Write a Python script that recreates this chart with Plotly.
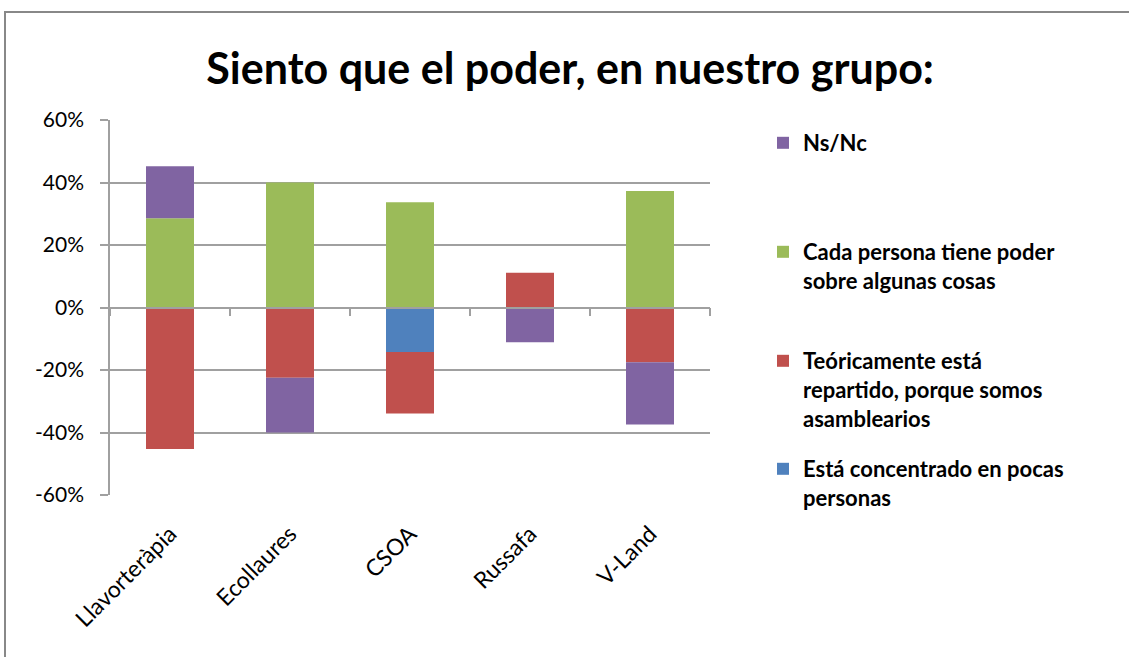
import plotly.graph_objects as go

categories = ["Llavorteràpia", "Ecollaures", "CSOA", "Russafa", "V-Land"]

concentrado = [None, None, -14.2, None, None]
teoricamente = [-45.3, -22.5, -19.7, 11.1, -17.5]
cada_persona = [28.6, 40.0, 33.7, None, 37.3]
ns_nc = [16.6, -17.5, None, -11.1, -19.9]

y_tick_values = [-60, -40, -20, 0, 20, 40, 60]
y_tick_labels = ["-60%", "-40%", "-20%", "0%", "20%", "40%", "60%"]

names = [
    "Está concentrado en pocas<br>personas",
    "Teóricamente está<br>repartido, porque somos<br>asamblearios",
    "Cada persona tiene poder<br>sobre algunas cosas",
    "Ns/Nc",
]
colors = ["#4F81BD", "#C0504D", "#9BBB59", "#8064A2"]
series = [concentrado, teoricamente, cada_persona, ns_nc]
legend_ids = ["legend4", "legend3", "legend2", "legend"]

FONT = "Lato, 'Open Sans', sans-serif"

# geometry of plot area in pixels
L, R, T, B = 110, 710, 120, 495
W, H = 1129, 657
pw, ph = R - L, B - T

def px_x(x):
    return (x - L) / pw

def px_y(y):
    return (B - y) / ph

fig = go.Figure()
for vals, name, col, lg in zip(series, names, colors, legend_ids):
    fig.add_trace(go.Bar(
        x=categories, y=vals, name=name, marker=dict(color=col, line=dict(width=0)),
        legend=lg, showlegend=True,
    ))

# empty trace to materialize the zero-line axis
fig.add_trace(go.Scatter(x=[], y=[], xaxis="x2", showlegend=False, hoverinfo="skip"))

legend_tops = [143, 252, 361, 469]
leg_common = dict(
    font=dict(family=FONT, size=22, color="#000000", weight="bold"),
    bgcolor="rgba(0,0,0,0)", borderwidth=0, valign="top",
    xanchor="left", yanchor="top", itemclick=False, itemdoubleclick=False,
    visible=True,
)
legend_keys = ["legend", "legend2", "legend3", "legend4"]
layout_legends = {}
for key, top in zip(legend_keys, legend_tops):
    layout_legends[key] = dict(leg_common, x=px_x(763), y=px_y(top - 21))

fig.update_layout(
    width=W, height=H, showlegend=True,
    margin=dict(l=L, r=W - R, t=T, b=H - B),
    paper_bgcolor="white", plot_bgcolor="white",
    barmode="relative", bargap=0.6,
    title=dict(text="<b>Siento que el poder, en nuestro grupo:</b>",
               x=0.505, xanchor="center", y=1 - 69 / H, yanchor="middle",
               font=dict(family=FONT, size=43, color="#000000")),
    xaxis=dict(
        type="category", categoryorder="array", categoryarray=categories,
        range=[-0.5, 4.5], showline=False, showgrid=False, zeroline=False,
        ticks="", tickangle=-45, ticklabelstandoff=20,
        tickfont=dict(family=FONT, size=23, color="#000000"),
    ),
    xaxis2=dict(
        overlaying="x", anchor="free", position=0.5, range=[-0.5, 4.5],
        showline=True, linecolor="#A0A0A0", linewidth=1.5,
        ticks="outside", ticklen=8, tickcolor="#A0A0A0", tickwidth=1.5,
        tickvals=[-0.5, 0.5, 1.5, 2.5, 3.5, 4.5], showticklabels=False,
        showgrid=False, zeroline=False,
    ),
    yaxis=dict(
        range=[-60, 60], tickmode="array", tickvals=y_tick_values, ticktext=y_tick_labels,
        showgrid=True, gridcolor="#A0A0A0", gridwidth=1.5,
        showline=True, linecolor="#A0A0A0", linewidth=1.5,
        ticks="outside", ticklen=8, tickcolor="#A0A0A0", tickwidth=1.5,
        zeroline=False, ticklabelstandoff=12,
        tickfont=dict(family=FONT, size=21, color="#000000"),
    ),
    shapes=[dict(type="rect", xref="paper", yref="paper",
                 x0=px_x(5), x1=px_x(1140), y0=px_y(670), y1=px_y(12),
                 line=dict(color="#888888", width=2), fillcolor="rgba(0,0,0,0)",
                 layer="below")],
    **layout_legends,
)

fig.write_html("out.html", config={"displayModeBar": False},
               post_script="document.body.style.margin='0';")
